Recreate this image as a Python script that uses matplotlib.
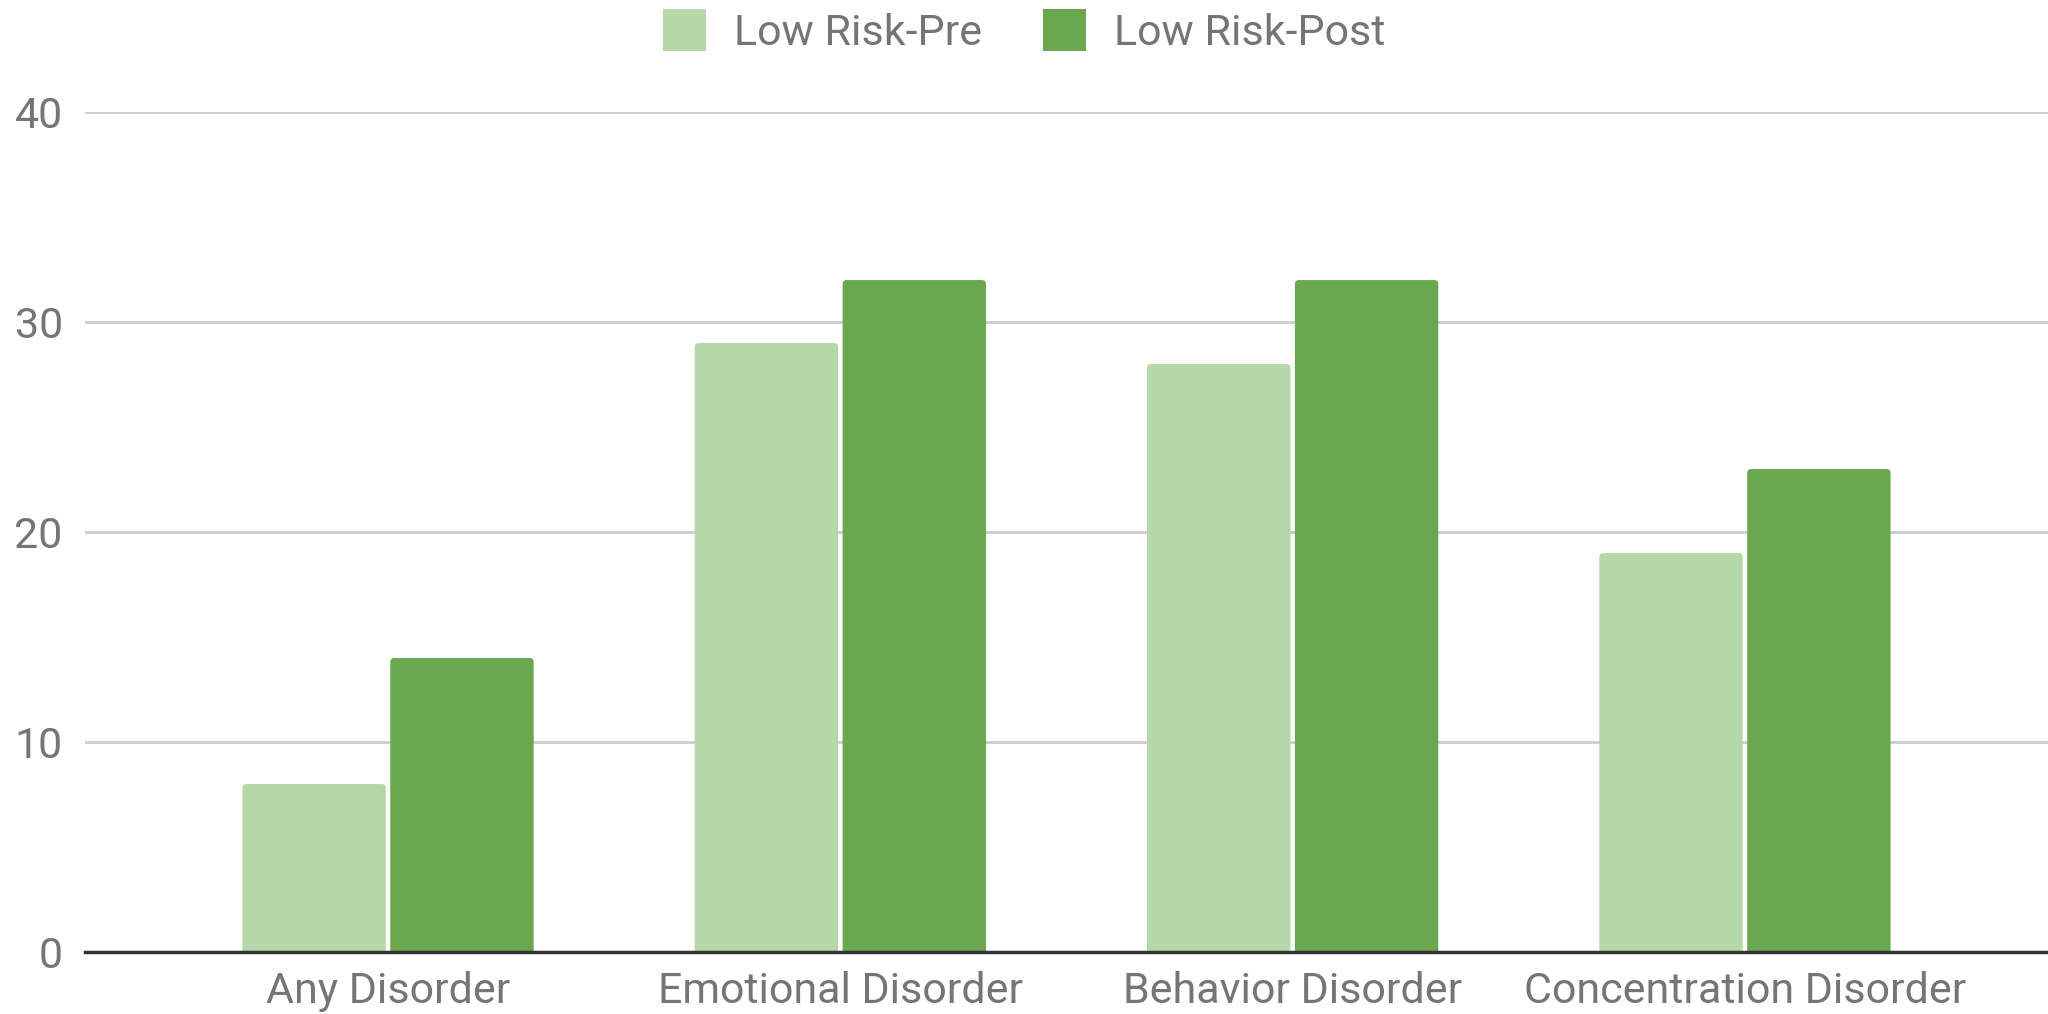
import numpy as np
import matplotlib
matplotlib.use("Agg")
import matplotlib.pyplot as plt
from matplotlib.patches import FancyBboxPatch, Patch

plt.rcParams['font.family'] = ['Roboto', 'DejaVu Sans']

categories = ["Any Disorder", "Emotional Disorder", "Behavior Disorder", "Concentration Disorder"]
series_names = ["Low Risk-Pre", "Low Risk-Post"]
pre_values = [8, 29, 28, 19]
post_values = [14, 32, 32, 23]
y_ticks = [0, 10, 20, 30, 40]

PRE_COLOR = "#b6d7a8"
POST_COLOR = "#6aa84f"
TEXT_COLOR = "#757575"

fig = plt.figure(figsize=(20.48, 10.14), dpi=100)
ax = fig.add_axes([0.0415, 0.0611, 0.9585, 0.8284])

x = np.arange(len(categories))
width = 0.317
gap = 0.005
bars_pre = ax.bar(x - width / 2 - gap, pre_values, width, color=PRE_COLOR, zorder=3)
bars_post = ax.bar(x + width / 2 + gap, post_values, width, color=POST_COLOR, zorder=3)

ax.set_xlim(-0.67, 3.67)
ax.set_ylim(0, 40)

# swap the square bars for ones with slightly rounded tops
x_px = ax.bbox.width / (3.67 + 0.67)
y_px = ax.bbox.height / 40.0
radius = 4.0 / x_px
for bar in list(bars_pre) + list(bars_post):
    bx, by = bar.get_x(), bar.get_y()
    bw, bh = bar.get_width(), bar.get_height()
    bar.set_visible(False)
    ax.add_patch(FancyBboxPatch((bx, by - 1), bw, bh + 1,
                                boxstyle="round,pad=0,rounding_size=%f" % radius,
                                mutation_aspect=x_px / y_px,
                                facecolor=bar.get_facecolor(), edgecolor='none',
                                zorder=3, clip_on=True))

ax.set_yticks(y_ticks)
ax.set_xticks(x)
ax.set_xticklabels(categories)
ax.tick_params(axis='both', length=0, labelsize=31, colors=TEXT_COLOR)
ax.tick_params(axis='y', pad=16)
ax.tick_params(axis='x', pad=14)

ax.grid(axis='y', color='#cccccc', linewidth=2, zorder=0)
for side in ('top', 'right', 'left'):
    ax.spines[side].set_visible(False)
ax.spines['bottom'].set_color('#333333')
ax.spines['bottom'].set_linewidth(2.5)
ax.spines['bottom'].set_zorder(4)

handles = [Patch(facecolor=PRE_COLOR, edgecolor='none'),
           Patch(facecolor=POST_COLOR, edgecolor='none')]
fig.legend(handles, series_names, loc='center', bbox_to_anchor=(0.5, 0.969), ncol=2,
           frameon=False, fontsize=31, labelcolor=TEXT_COLOR, handlelength=1.0,
           handleheight=1.1, handletextpad=0.65, columnspacing=1.4)

fig.savefig("out.png", dpi=100)
